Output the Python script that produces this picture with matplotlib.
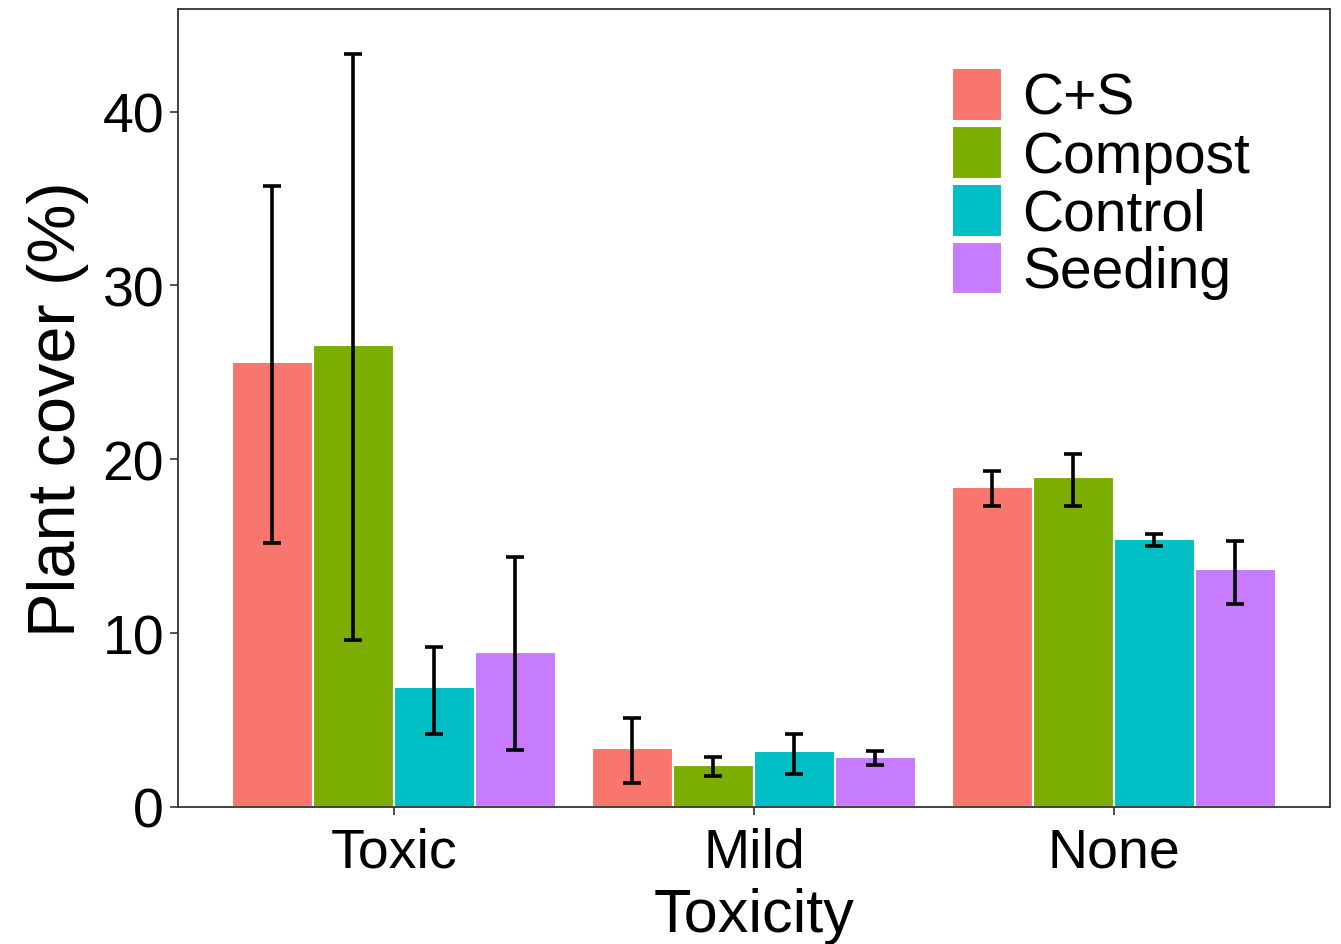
import matplotlib
matplotlib.use("Agg")
import matplotlib.pyplot as plt
import numpy as np

categories = ["Toxic", "Mild", "None"]
treatments = ["C+S", "Compost", "Control", "Seeding"]
colors = ["#F8766D", "#7CAE00", "#00BFC4", "#C77CFF"]
means = {
    "C+S":     [25.6, 3.4, 18.4],
    "Compost": [26.6, 2.4, 19.0],
    "Control": [6.9, 3.2, 15.4],
    "Seeding": [8.9, 2.9, 13.7],
}
err_low = {
    "C+S":     [15.2, 1.4, 17.3],
    "Compost": [9.6, 1.8, 17.3],
    "Control": [4.2, 1.9, 15.0],
    "Seeding": [3.3, 2.4, 11.7],
}
err_high = {
    "C+S":     [35.7, 5.1, 19.3],
    "Compost": [43.3, 2.9, 20.3],
    "Control": [9.2, 4.2, 15.7],
    "Seeding": [14.4, 3.2, 15.3],
}

plt.rcParams['font.family'] = ['Liberation Sans', 'DejaVu Sans']
fig = plt.figure(figsize=(13.41, 9.45), dpi=100)
ax = fig.add_axes([0.1327, 0.145, 0.8591, 0.8444])

x = np.arange(1, len(categories) + 1)
total_w = 0.9
w = total_w / len(treatments)
for i, t in enumerate(treatments):
    xi = x - total_w / 2 + w * (i + 0.5)
    m = np.array(means[t])
    lo = np.array(err_low[t])
    hi = np.array(err_high[t])
    ax.bar(xi, m, width=w, color=colors[i], edgecolor="white", linewidth=1.5, label=t, zorder=2)
    ax.errorbar(xi, m, yerr=[m - lo, hi - m], fmt="none", ecolor="black",
                elinewidth=2.6, capsize=6.5, capthick=2.6, zorder=3)

ax.set_xlim(0.4, 3.6)
ax.set_ylim(0, 45.9)
ax.set_yticks([0, 10, 20, 30, 40])
ax.set_xticks(x)
ax.set_xticklabels(categories)
ax.tick_params(axis="both", labelsize=40, length=6, width=1.2, colors="#333333",
               labelcolor="black", pad=4)
ax.tick_params(axis="x", pad=8)
for s in ax.spines.values():
    s.set_color("#333333")
    s.set_linewidth(1.3)
ax.set_xlabel("Toxicity", fontsize=44, labelpad=6)
ax.set_ylabel("Plant cover (%)", fontsize=48, labelpad=10)

leg = ax.legend(loc="upper left", bbox_to_anchor=(0.672, 0.926), fontsize=41, frameon=False,
                handlelength=0.88, handleheight=1.05, labelspacing=0.0, handletextpad=0.35,
                borderaxespad=0, borderpad=0)

fig.savefig("out.png", dpi=100)
